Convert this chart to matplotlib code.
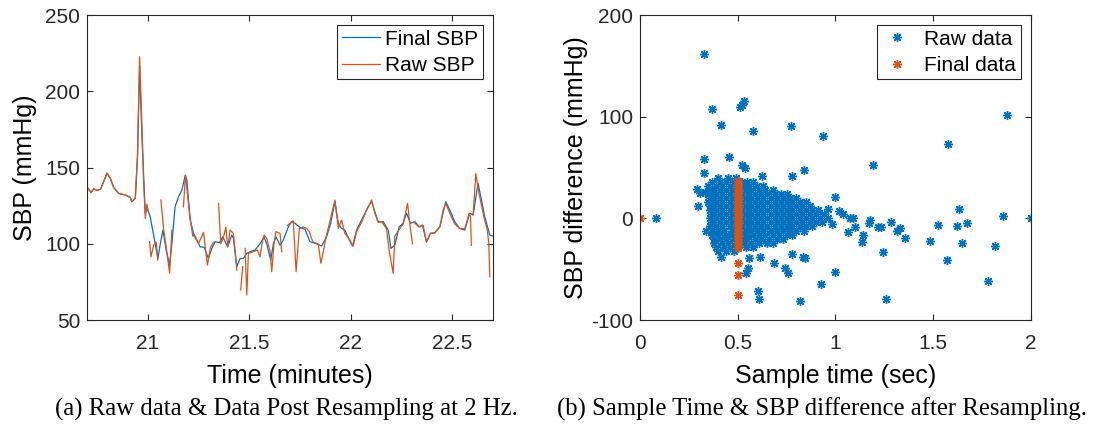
import numpy as np
import matplotlib
matplotlib.use("Agg")
import matplotlib.pyplot as plt

#########################################################
# Data
#########################################################

nan = np.nan

# (a) resampled SBP (blue) - time in minutes, SBP in mmHg
final_t = [20.700, 20.720, 20.733, 20.749, 20.766, 20.782, 20.798, 20.815, 20.831, 20.856,
           20.889, 20.913, 20.921, 20.938, 20.949, 20.959, 20.970, 20.987, 20.998, 21.011,
           21.036, 21.049, 21.061, 21.074, 21.090, 21.107, 21.118, 21.134, 21.151, 21.167,
           21.184, 21.192, 21.208, 21.225, 21.241, 21.257, 21.277, 21.298, 21.315, 21.331,
           21.352, 21.369, 21.380, 21.393, 21.413, 21.421, 21.438, 21.454, 21.470, 21.487,
           21.503, 21.528, 21.552, 21.572, 21.585, 21.605, 21.618, 21.631, 21.651, 21.667,
           21.692, 21.708, 21.725, 21.749, 21.774, 21.798, 21.831, 21.856, 21.880, 21.900,
           21.913, 21.921, 21.938, 21.954, 21.970, 21.992, 22.008, 22.028, 22.044, 22.069,
           22.085, 22.102, 22.118, 22.134, 22.159, 22.184, 22.197, 22.216, 22.238, 22.257,
           22.274, 22.293, 22.315, 22.336, 22.352, 22.372, 22.392, 22.413, 22.438, 22.467,
           22.487, 22.511, 22.536, 22.561, 22.585, 22.602, 22.626, 22.643, 22.659, 22.684,
           22.700]
final_sbp = [137.4, 133.5, 136.0, 135.0, 135.7, 140.7, 146.0, 143.0, 137.0, 133.0,
             132.0, 130.4, 127.6, 129.8, 157.0, 217.0, 172.0, 120.0, 123.0, 117.8,
             100.0, 90.4, 100.0, 109.0, 95.9, 86.0, 100.0, 124.3, 131.0, 135.0,
             145.0, 141.8, 115.6, 106.8, 102.5, 98.0, 97.7, 90.4, 97.0, 101.4,
             100.7, 104.6, 101.4, 98.0, 105.7, 103.6, 85.0, 90.4, 90.4, 93.7,
             94.8, 96.0, 100.0, 104.6, 100.0, 89.3, 100.0, 104.6, 99.0, 102.5,
             111.2, 114.5, 113.4, 110.6, 109.5, 101.4, 100.0, 98.5, 104.6, 113.4,
             122.2, 127.6, 113.4, 110.0, 109.0, 102.5, 98.5, 109.0, 113.4, 120.0,
             124.3, 127.6, 121.0, 114.5, 114.5, 109.0, 97.0, 99.0, 111.2, 113.4,
             120.0, 113.4, 114.5, 111.2, 112.3, 101.4, 106.8, 107.3, 111.2, 127.6,
             122.2, 114.5, 110.0, 109.0, 120.0, 118.9, 139.6, 128.7, 117.8, 105.7,
             105.0]

# (a) raw SBP (orange) - nan marks the breaks in the raw trace
raw_t = [20.700, 20.720, 20.733, 20.749, 20.766, 20.782, 20.798, 20.815, 20.831, 20.856,
         20.889, 20.913, 20.921, 20.938, 20.949, 20.959, 20.970, 20.979, 20.987, 20.995, 21.000, 21.004,
         21.008, 21.015, 21.028, 21.041, 21.049, 21.056,
         21.064, 21.077, 21.090, 21.107, 21.118, 21.150,
         21.175, 21.185, 21.205, 21.221,
         21.225, 21.249, 21.274, 21.293, 21.307, 21.323, 21.335,
         21.348, 21.359, 21.372, 21.384, 21.393, 21.405, 21.421, 21.438, 21.448,
         21.457, 21.467, 21.473,
         21.479, 21.487, 21.495, 21.520, 21.539, 21.552, 21.562, 21.572, 21.585, 21.602,
         21.610, 21.621, 21.631, 21.651, 21.659, 21.670,
         21.687, 21.708, 21.716, 21.730, 21.746, 21.766, 21.782, 21.795, 21.807, 21.815,
         21.839, 21.852, 21.864, 21.880, 21.897, 21.921, 21.938, 21.954, 21.970, 21.992,
         22.011, 22.028, 22.052, 22.077, 22.102, 22.118, 22.134, 22.151, 22.175, 22.189,
         22.208, 22.216, 22.241, 22.257, 22.279, 22.290, 22.303, 22.306,
         22.310, 22.336, 22.356, 22.372, 22.392, 22.413, 22.438, 22.454, 22.467, 22.487,
         22.511, 22.536, 22.561, 22.582, 22.589, 22.593, 22.597,
         22.602, 22.615, 22.631, 22.654, 22.672, 22.679, 22.684]
raw_sbp = [137.4, 133.5, 136.0, 135.0, 135.7, 140.7, 146.5, 143.0, 137.0, 133.0,
           132.0, 130.4, 127.6, 130.0, 160.0, 222.7, 180.0, 140.0, 116.7, 126.0, 122.0, nan,
           101.4, 91.5, 99.0, 101.0, 89.3, nan,
           128.7, 110.0, 98.0, 80.6, 109.0, nan,
           124.3, 145.0, 120.0, 105.0,
           105.7, 100.0, 107.5, 86.0, 97.0, 101.0, nan,
           126.5, 100.0, 104.0, 111.0, 98.0, 109.0, 106.8, 82.8, nan,
           69.7, 85.0, nan,
           97.0, 66.4, 93.7, 94.8, 96.0, 91.5, 100.0, 105.7, 103.6, 95.0,
           81.7, 100.0, 108.0, 106.8, 94.8, nan,
           112.0, 114.5, 115.0, 81.7, 110.0, 111.0, 110.0, 108.0, 103.0, 101.0,
           100.0, 87.2, 95.0, 106.0, 115.0, 128.7, 110.0, 115.6, 106.8, 103.0,
           98.5, 108.0, 114.0, 122.0, 128.7, 120.0, 114.0, 114.5, 110.0, 95.0,
           80.6, 105.0, 110.0, 113.0, 126.5, 113.0, 100.0, nan,
           114.0, 111.0, 112.0, 101.0, 107.0, 107.0, 111.0, 122.0, 126.5, 120.0,
           113.0, 110.0, 110.0, 120.0, 118.0, 99.0, nan,
           119.0, 146.0, 133.0, 118.0, 109.0, 100.0, 78.4]

# (b) raw data outliers (sample time in sec, SBP difference in mmHg)
out_x = [0.08, 0.329, 0.368, 0.414, 0.512, 0.532, 0.520, 0.576, 0.771, 0.938,
         1.876, 1.577, 1.194, 0.329, 0.457, 0.841, 0.776, 0.622, 0.520, 0.539,
         0.329, 0.999, 1.632, 1.858, 2.000, 1.523, 1.620, 1.674, 1.483, 1.649,
         1.818, 1.569, 1.778, 1.241, 1.257, 1.355, 1.313, 1.330, 1.284, 1.219,
         1.232, 1.176, 1.173, 1.142, 1.134, 1.100, 1.062, 1.074, 1.088, 0.996,
         0.926, 0.818, 0.602, 0.607, 0.559, 0.614, 0.554, 0.542, 0.685, 0.742,
         0.759, 0.835, 0.846, 0.779, 0.416, 0.336, 0.295, 0.290, 0.332, 0.305,
         1.040, 1.020, 0.980, 0.960]
out_y = [0.0, 161.3, 107.5, 91.8, 109.8, 115.7, 111.5, 85.9, 90.8, 81.0,
         101.6, 72.8, 52.1, 58.0, 60.7, 47.5, 41.6, 41.6, 52.5, 49.8,
         45.0, 21.3, 8.9, 2.6, 0.0, -6.6, -7.2, -4.6, -22.0, -24.0,
         -27.2, -41.0, -61.3, -33.1, -79.7, -19.7, -12.1, -9.8, -3.3, -8.2,
         -8.2, -1.6, -4.3, -16.4, -23.6, -8.2, -13.8, 0.0, 0.0, -52.5,
         -64.6, -81.0, -71.1, -79.7, -38.7, -37.7, -49.2, -53.4, -44.3, -48.5,
         -54.1, -38.4, -39.3, -35.1, -38.4, -12.1, 12.1, 28.9, 26.2, 24.6,
         4.0, 7.0, -6.0, 9.0]

# (b) dense raw data cluster, one list per row of the blob
cluster_rows = {
    40: [0.40, 0.45, 0.49],
    36: [0.37, 0.41, 0.44, 0.48, 0.52, 0.55, 0.58],
    32: [0.35, 0.39, 0.42, 0.46, 0.49, 0.53, 0.56, 0.60, 0.63],
    28: [0.36, 0.38, 0.41, 0.44, 0.47, 0.51, 0.54, 0.57, 0.61, 0.64, 0.68],
    24: [0.35, 0.39, 0.42, 0.46, 0.49, 0.52, 0.56, 0.59, 0.62, 0.65, 0.69, 0.72, 0.75],
    20: [0.36, 0.38, 0.41, 0.44, 0.47, 0.51, 0.54, 0.57, 0.60, 0.63, 0.67, 0.70, 0.73, 0.77, 0.80],
    16: [0.35, 0.39, 0.42, 0.46, 0.49, 0.52, 0.56, 0.59, 0.62, 0.65, 0.69, 0.72, 0.75, 0.78, 0.82, 0.85],
    12: [0.36, 0.38, 0.41, 0.44, 0.47, 0.51, 0.54, 0.57, 0.60, 0.63, 0.67, 0.70, 0.73, 0.77, 0.80, 0.83, 0.87],
    8: [0.36, 0.39, 0.42, 0.46, 0.49, 0.52, 0.56, 0.59, 0.62, 0.65, 0.69, 0.72, 0.75, 0.78, 0.82, 0.85, 0.88, 0.91],
    4: [0.37, 0.38, 0.41, 0.44, 0.47, 0.51, 0.54, 0.57, 0.60, 0.63, 0.67, 0.70, 0.73, 0.77, 0.80, 0.83, 0.87, 0.90, 0.94],
    0: [0.36, 0.39, 0.42, 0.46, 0.49, 0.52, 0.56, 0.59, 0.62, 0.65, 0.69, 0.72, 0.75, 0.78, 0.82, 0.85, 0.88, 0.92, 0.96],
    -4: [0.37, 0.38, 0.41, 0.44, 0.47, 0.51, 0.54, 0.57, 0.60, 0.63, 0.67, 0.70, 0.73, 0.77, 0.80, 0.83, 0.87, 0.90, 0.93],
    -8: [0.36, 0.39, 0.42, 0.46, 0.49, 0.52, 0.56, 0.59, 0.62, 0.65, 0.69, 0.72, 0.75, 0.78, 0.82, 0.85, 0.88],
    -12: [0.37, 0.40, 0.43, 0.47, 0.51, 0.54, 0.57, 0.60, 0.63, 0.67, 0.70, 0.73, 0.77, 0.80, 0.84],
    -16: [0.37, 0.40, 0.44, 0.47, 0.51, 0.54, 0.58, 0.61, 0.64, 0.68, 0.71, 0.75, 0.78],
    -20: [0.38, 0.41, 0.44, 0.48, 0.52, 0.55, 0.59, 0.62, 0.66, 0.70, 0.73],
    -24: [0.38, 0.42, 0.45, 0.49, 0.53, 0.57, 0.61, 0.65, 0.68],
    -28: [0.39, 0.43, 0.46, 0.50, 0.54, 0.58],
    -32: [0.40, 0.44, 0.48],
}

# (b) final data (orange) - all at 0.5 s except the first sample
final_x = [0.0] + [0.5] * 26
final_y = [0.0, 37, 34, 31, 28, 25, 22, 19, 16, 13, 10, 7, 4, 1, -2, -5, -8, -11, -14,
           -17, -20, -23, -26, -29, -43.6, -55.7, -75.4]

caption_a = "(a) Raw data & Data Post Resampling at 2 Hz."
caption_b = "(b) Sample Time & SBP difference after Resampling."

#########################################################
# Plotting
#########################################################

blue = "#0072BD"
orange = "#D95319"
plt.rcParams["font.family"] = ["Liberation Sans", "DejaVu Sans"]
plt.rcParams["axes.unicode_minus"] = False

fig = plt.figure(figsize=(10.93, 4.36), dpi=100)
ax1 = fig.add_axes([0.0796, 0.266, 0.3715, 0.6995])
ax2 = fig.add_axes([0.5855, 0.266, 0.3577, 0.6995])

# (a) line plot
ax1.plot(final_t, final_sbp, color=blue, lw=0.9, label="Final SBP")
ax1.plot(raw_t, raw_sbp, color=orange, lw=0.9, label="Raw SBP")
ax1.set_xlim(20.7, 22.7)
ax1.set_ylim(50, 250)
ax1.set_xticks([21, 21.5, 22, 22.5])
ax1.set_yticks([50, 100, 150, 200, 250])
ax1.set_xticklabels(["21", "21.5", "22", "22.5"])
ax1.set_xlabel("Time (minutes)", fontsize=18, labelpad=8)
ax1.set_ylabel("SBP (mmHg)", fontsize=18, labelpad=6)
leg1 = ax1.legend(loc="upper right", fontsize=15, handlelength=1.85, handletextpad=0.25,
                  borderaxespad=0.5, fancybox=False, edgecolor="#262626", framealpha=1,
                  borderpad=0.2, labelspacing=0.35)
leg1.get_frame().set_linewidth(0.8)

# (b) scatter panel
cx = []
cy = []
for yv, xs in cluster_rows.items():
    cx += xs
    cy += [yv] * len(xs)

star = (8, 2, 0)  # matlab style asterisk
ax2.plot(out_x + cx, out_y + cy, ls="none", marker=star, ms=6.5, mew=1.0,
         color=blue, label="Raw data")
ax2.plot(final_x, final_y, ls="none", marker=star, ms=6.5, mew=1.0,
         color=orange, label="Final data")
ax2.set_xlim(0, 2)
ax2.set_ylim(-100, 200)
ax2.set_xticks([0, 0.5, 1, 1.5, 2])
ax2.set_xticklabels(["0", "0.5", "1", "1.5", "2"])
ax2.set_yticks([-100, 0, 100, 200])
ax2.set_xlabel("Sample time (sec)", fontsize=18, labelpad=8)
ax2.set_ylabel("SBP difference (mmHg)", fontsize=18, labelpad=2)
leg2 = ax2.legend(loc="upper right", fontsize=15, handlelength=1.6, handletextpad=0.5,
                  borderaxespad=0.5, fancybox=False, edgecolor="#262626", framealpha=1,
                  borderpad=0.2, labelspacing=0.35)
leg2.get_frame().set_linewidth(0.8)

for ax in (ax1, ax2):
    for s in ax.spines.values():
        s.set_color("#262626")
        s.set_linewidth(0.8)
    ax.tick_params(direction="in", top=True, right=True, labelsize=15,
                   colors="#262626", length=4, width=0.8)
    ax.tick_params(axis="x", pad=10)
    ax.tick_params(axis="y", pad=5)

fig.text(0.262, 0.062, caption_a, ha="center", va="center", fontsize=17.8,
         family="Liberation Serif")
fig.text(0.752, 0.062, caption_b, ha="center", va="center", fontsize=17.8,
         family="Liberation Serif")

fig.savefig("out.png", dpi=100)
